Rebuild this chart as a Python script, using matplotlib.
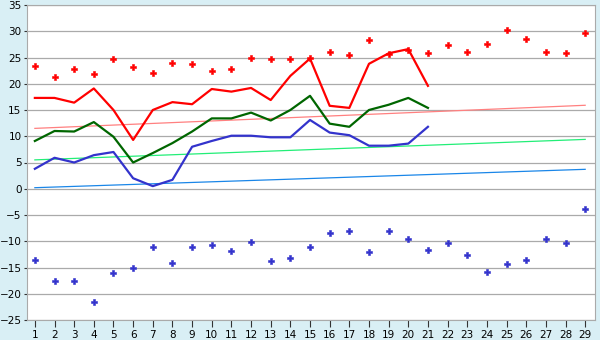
import matplotlib.pyplot as plt
import numpy as np

days = np.arange(1, 30)

# daily extremes (scatter)
max_pts = [23.3, 21.2, 22.9, 21.8, 24.7, 23.1, 22.0, 23.9, 23.8, 22.4,
           22.8, 24.9, 24.7, 24.8, 25.0, 26.0, 25.5, 28.3, 25.7, 26.5,
           25.8, 27.3, 26.0, 27.5, 30.2, 28.5, 26.0, 25.8, 29.6]
min_pts = [-13.5, -17.5, -17.6, -21.6, -16.1, -15.0, -11.0, -14.2, -11.0, -10.8,
           -11.9, -10.2, -13.8, -13.1, -11.0, -8.5, -8.1, -12.1, -8.1, -9.5,
           -11.7, -10.4, -12.7, -15.9, -14.4, -13.6, -9.5, -10.4, -3.9]

# current month lines (days 1-21)
max_line = [17.3, 17.3, 16.4, 19.1, 15.0, 9.3, 15.0, 16.5, 16.1, 19.0,
            18.5, 19.2, 16.9, 21.5, 24.8, 15.8, 15.4, 23.8, 25.8, 26.6, 19.6]
mean_line = [9.1, 11.0, 10.9, 12.7, 9.9, 5.0, 6.8, 8.7, 10.9, 13.4,
             13.4, 14.5, 13.0, 15.0, 17.7, 12.4, 11.8, 15.0, 16.0, 17.3, 15.4]
min_line = [3.8, 5.9, 5.0, 6.4, 7.0, 2.0, 0.5, 1.7, 8.0, 9.1,
            10.1, 10.1, 9.8, 9.8, 13.1, 10.7, 10.2, 8.2, 8.2, 8.6, 11.8]

# trend lines, value at day 1 and day 29
trend_days = [1, 29]
trend_max = [11.5, 15.9]
trend_mean = [5.5, 9.4]
trend_min = [0.2, 3.7]

fig = plt.figure(figsize=(6, 3.4), dpi=100, facecolor='#d9eff5')
ax = fig.add_axes([27/600, 20/340, 568/600, 315/340])
ax.set_facecolor('white')

ax.plot(trend_days, trend_max, color='#ff8080', lw=0.9)
ax.plot(trend_days, trend_mean, color='#22ee77', lw=0.9)
ax.plot(trend_days, trend_min, color='#1a86e8', lw=0.9)

ax.plot(days[:len(max_line)], max_line, color='#ff0000', lw=1.6)
ax.plot(days[:len(mean_line)], mean_line, color='#006600', lw=1.6)
ax.plot(days[:len(min_line)], min_line, color='#3333cc', lw=1.6)

ax.plot(days, max_pts, ls='none', marker='P', ms=4.2, color='#ff0000', mec='#ff0000', mew=0.4)
ax.plot(days, min_pts, ls='none', marker='P', ms=4.2, color='#3333cc', mec='#3333cc', mew=0.4)

ax.set_xlim(0.6, 29.5)
ax.set_ylim(-25, 35)
ax.set_xticks(days)
ax.set_yticks(np.arange(-25, 36, 5))
ax.yaxis.grid(True, color='#aaaaaa', lw=0.9)
ax.set_axisbelow(True)

for s in ax.spines.values():
    s.set_color('#aaaaaa')
ax.tick_params(axis='x', length=5, color='#333333', labelsize=7.5, pad=2)
ax.tick_params(axis='y', length=2.5, color='#333333', labelsize=7.5, pad=1.5)

fig.savefig('out.png', dpi=100, facecolor=fig.get_facecolor())
